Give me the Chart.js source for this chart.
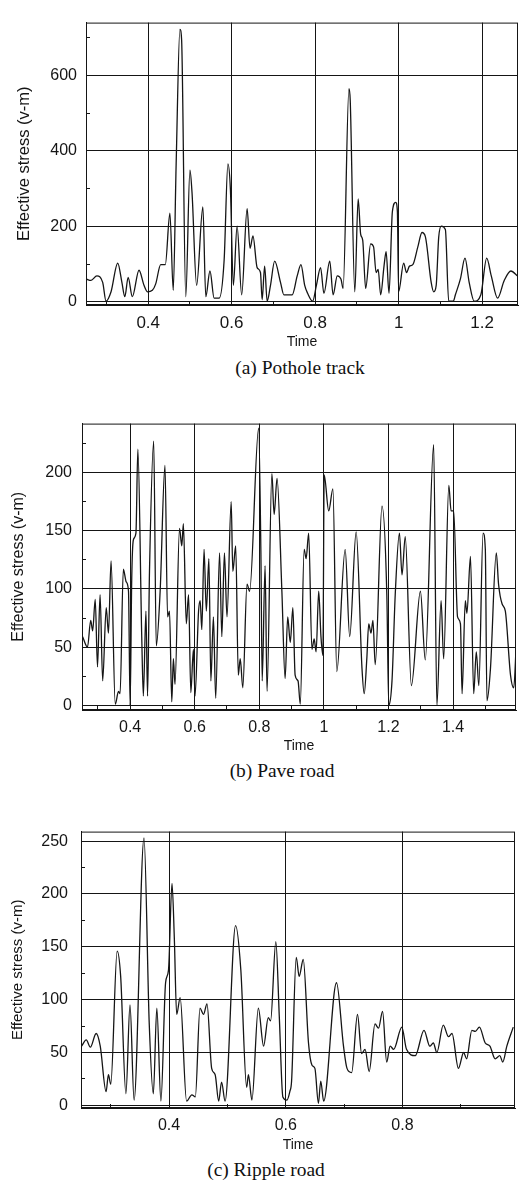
<!DOCTYPE html>
<html>
<head>
<meta charset="utf-8">
<script src="https://cdn.jsdelivr.net/npm/chart.js@4.4.1/dist/chart.umd.min.js"></script>
<style>
  body { margin: 0; background: #fff; width: 519px; height: 1186px; position: relative; overflow: hidden; }
  canvas { position: absolute; left: 0; }
  .cap {
    position: absolute; transform: translateX(-50%) scaleX(1.08);
    font-family: "Liberation Serif", "Times New Roman", serif;
    font-size: 18px; line-height: 20px; color: #111; white-space: nowrap;
  }
</style>
</head>
<body>
<canvas id="chart-a" width="519" height="352" style="top:0px"></canvas>
<div class="cap" style="top:358px;left:300px">(a) Pothole track</div>

<canvas id="chart-b" width="519" height="357" style="top:400px"></canvas>
<div class="cap" style="top:761px;left:282px">(b) Pave road</div>

<canvas id="chart-c" width="519" height="350" style="top:805px"></canvas>
<div class="cap" style="top:1160px;left:266px">(c) Ripple road</div>

<script>
"use strict";

// ── Data: [time, effective stress] ──────────────────────────────────────────
const POTHOLE = [
  [0.251, 61], [0.263, 57], [0.277, 69], [0.291, 52], [0.299, 2], [0.311, 27],
  [0.327, 103], [0.337, 52], [0.344, 14], [0.352, 65], [0.362, 14], [0.378, 84],
  [0.390, 44], [0.398, 27], [0.410, 31], [0.418, 48], [0.430, 99], [0.441, 99],
  [0.452, 235], [0.460, 31], [0.467, 366], [0.476, 722], [0.480, 696], [0.490, 14],
  [0.500, 349], [0.505, 290], [0.516, 44], [0.531, 252], [0.538, 14], [0.548, 82],
  [0.558, 10], [0.570, 10], [0.582, 112], [0.591, 366], [0.597, 298], [0.604, 44],
  [0.613, 201], [0.624, 19], [0.637, 247], [0.644, 142], [0.651, 175], [0.661, 91],
  [0.669, 78], [0.673, 6], [0.679, 95], [0.685, 2], [0.693, 44], [0.703, 108],
  [0.717, 52], [0.725, 19], [0.745, 19], [0.757, 69], [0.766, 99], [0.775, 44],
  [0.782, 23], [0.794, 2], [0.803, 44], [0.813, 91], [0.821, 23], [0.835, 108],
  [0.843, 19], [0.853, 69], [0.862, 60], [0.867, 36], [0.881, 565], [0.884, 535],
  [0.895, 27], [0.903, 273], [0.909, 180], [0.914, 163], [0.921, 36], [0.933, 154],
  [0.940, 146], [0.946, 78], [0.951, 86], [0.957, 19], [0.965, 95], [0.970, 133],
  [0.977, 23], [0.985, 239], [0.993, 264], [0.997, 240], [1.000, 27], [1.012, 103],
  [1.019, 78], [1.026, 95], [1.034, 99], [1.046, 146], [1.056, 184], [1.064, 173],
  [1.078, 52], [1.084, 27], [1.090, 44], [1.096, 171], [1.102, 201], [1.112, 192],
  [1.120, 2], [1.131, 2], [1.136, 19], [1.148, 61], [1.159, 116], [1.169, 52],
  [1.181, 2], [1.197, 19], [1.211, 116], [1.222, 69], [1.237, 10], [1.253, 57],
  [1.269, 82], [1.285, 69],
];

const PAVE = [
  [0.253, 59], [0.268, 50], [0.278, 73], [0.284, 64], [0.292, 91], [0.299, 33],
  [0.307, 95], [0.315, 21], [0.326, 84], [0.333, 62], [0.341, 124], [0.354, 1],
  [0.364, 12], [0.369, 10], [0.379, 117], [0.388, 106], [0.395, 98], [0.400, 0],
  [0.405, 109], [0.410, 142], [0.418, 148], [0.424, 220], [0.436, 59], [0.441, 8],
  [0.449, 81], [0.454, 8], [0.460, 115], [0.473, 227], [0.481, 51], [0.493, 98],
  [0.508, 206], [0.516, 76], [0.522, 81], [0.529, 3], [0.534, 40], [0.539, 18],
  [0.553, 152], [0.560, 137], [0.565, 156], [0.574, 70], [0.581, 95], [0.588, 11],
  [0.596, 48], [0.601, 8], [0.612, 81], [0.617, 90], [0.622, 65], [0.629, 134],
  [0.636, 81], [0.644, 126], [0.650, 21], [0.658, 76], [0.665, 6], [0.677, 131],
  [0.684, 59], [0.692, 131], [0.700, 76], [0.713, 175], [0.718, 115], [0.727, 137],
  [0.735, 26], [0.741, 40], [0.749, 15], [0.762, 104], [0.770, 98], [0.798, 238],
  [0.805, 131], [0.809, 21], [0.818, 120], [0.824, 12], [0.839, 199], [0.846, 164],
  [0.855, 195], [0.870, 98], [0.880, 23], [0.888, 76], [0.896, 54], [0.904, 84],
  [0.911, 26], [0.920, 21], [0.927, 1], [0.939, 134], [0.945, 126], [0.953, 148],
  [0.963, 48], [0.970, 57], [0.976, 46], [0.984, 98], [0.991, 59], [0.997, 43],
  [1.001, 198], [1.015, 167], [1.028, 186], [1.040, 29], [1.066, 134], [1.080, 59],
  [1.100, 149], [1.118, 32], [1.125, 10], [1.133, 40], [1.139, 70], [1.146, 62],
  [1.152, 73], [1.159, 35], [1.180, 171], [1.195, 95], [1.201, 0], [1.211, 21],
  [1.221, 95], [1.234, 148], [1.242, 112], [1.252, 145], [1.271, 17], [1.299, 98],
  [1.314, 39], [1.340, 224], [1.350, 0], [1.363, 90], [1.371, 40], [1.387, 189],
  [1.394, 167], [1.402, 167], [1.414, 76], [1.423, 70], [1.428, 10], [1.438, 90],
  [1.443, 79], [1.454, 128], [1.464, 10], [1.472, 46], [1.480, 17], [1.493, 148],
  [1.500, 134], [1.505, 4], [1.516, 32], [1.534, 131], [1.541, 104], [1.552, 87],
  [1.562, 81], [1.578, 26], [1.588, 15], [1.596, 54],
];

const RIPPLE = [
  [0.250, 56], [0.258, 62], [0.265, 55], [0.275, 68], [0.282, 56], [0.292, 13],
  [0.296, 29], [0.300, 20], [0.311, 146], [0.317, 122], [0.326, 11], [0.333, 95],
  [0.340, 5], [0.357, 253], [0.366, 77], [0.373, 11], [0.379, 92], [0.386, 4],
  [0.394, 116], [0.399, 128], [0.405, 210], [0.409, 158], [0.413, 86], [0.419, 102],
  [0.430, 4], [0.439, 10], [0.445, 8], [0.453, 92], [0.459, 86], [0.465, 96],
  [0.473, 35], [0.479, 29], [0.485, 4], [0.490, 22], [0.496, 4], [0.514, 170],
  [0.523, 128], [0.533, 17], [0.536, 29], [0.542, 5], [0.553, 92], [0.562, 56],
  [0.570, 83], [0.574, 80], [0.583, 155], [0.589, 83], [0.595, 8], [0.602, 5],
  [0.607, 13], [0.610, 23], [0.618, 140], [0.623, 122], [0.630, 138], [0.639, 59],
  [0.645, 38], [0.650, 35], [0.656, 2], [0.660, 23], [0.665, 4], [0.687, 116],
  [0.699, 56], [0.705, 35], [0.713, 31], [0.723, 86], [0.730, 49], [0.736, 53],
  [0.743, 32], [0.753, 77], [0.759, 73], [0.766, 89], [0.773, 41], [0.779, 56],
  [0.785, 53], [0.799, 74], [0.807, 53], [0.822, 47], [0.837, 71], [0.847, 56],
  [0.853, 59], [0.859, 50], [0.870, 76], [0.879, 65], [0.885, 68], [0.896, 35],
  [0.905, 50], [0.910, 44], [0.919, 71], [0.925, 70], [0.932, 74], [0.942, 59],
  [0.950, 56], [0.959, 44], [0.967, 47], [0.972, 41], [0.979, 56], [0.990, 74],
];

// ── Ticks: every position gets a small mark, labelled ones get a grid line ──
const POTHOLE_XTICKS = [0.3, 0.4, 0.5, 0.6, 0.7, 0.8, 0.9, 1.0, 1.1, 1.2];
const POTHOLE_XLABELS = [0.4, 0.6, 0.8, 1.0, 1.2];
const POTHOLE_YTICKS = [0, 100, 200, 300, 400, 500, 600, 700];
const POTHOLE_YLABELS = [0, 200, 400, 600];

const PAVE_XTICKS = [0.3, 0.4, 0.5, 0.6, 0.7, 0.8, 0.9, 1.0, 1.1, 1.2, 1.3, 1.4, 1.5];
const PAVE_XLABELS = [0.4, 0.6, 0.8, 1.0, 1.2, 1.4];
const PAVE_YTICKS = [0, 25, 50, 75, 100, 125, 150, 175, 200, 225];
const PAVE_YLABELS = [0, 50, 100, 150, 200];

const RIPPLE_XTICKS = [0.3, 0.4, 0.5, 0.6, 0.7, 0.8, 0.9];
const RIPPLE_XLABELS = [0.4, 0.6, 0.8];
const RIPPLE_YTICKS = [0, 25, 50, 75, 100, 125, 150, 175, 200, 225, 250];
const RIPPLE_YLABELS = [0, 50, 100, 150, 200, 250];

// ── Style ────────────────────────────────────────────────────────────────────
const INK = "#151515";
const SANS = "'Liberation Sans', Arial, sans-serif";
const NONE = "rgba(0,0,0,0)";

const hasVal = (list, v) => list.some(u => Math.abs(u - v) < 1e-6);
const fmt = v => String(+Number(v).toFixed(2));

// plot frame (top and right edges are not drawn by the axes)
const framePlugin = {
  id: "frame",
  beforeDatasetsDraw(chart) {
    const { ctx, chartArea: a } = chart;
    ctx.save();
    ctx.strokeStyle = INK;
    ctx.lineWidth = 1;
    ctx.strokeRect(a.left + 0.5, a.top + 0.5, a.right - a.left - 1, a.bottom - a.top - 1);
    ctx.restore();
  },
};

function drawPanel(id, p) {
  const ctx = document.getElementById(id).getContext("2d");
  return new Chart(ctx, {
    type: "line",
    data: {
      datasets: [{
        data: p.series.map(([x, y]) => ({ x, y })),
        borderColor: INK,
        borderWidth: 1.3,
        pointRadius: 0,
        cubicInterpolationMode: "monotone",
        fill: false,
      }],
    },
    options: {
      responsive: false,
      animation: false,
      devicePixelRatio: 1,
      layout: { padding: { top: p.padTop, right: p.padRight, left: 0, bottom: 0 } },
      scales: {
        x: {
          type: "linear",
          min: p.xMin, max: p.xMax,
          afterBuildTicks: s => { s.ticks = p.xTicks.map(v => ({ value: v })); },
          afterFit: s => { s.height = 47; },
          ticks: {
            color: INK,
            font: { family: SANS, size: p.xTickSize },
            padding: 12,
            maxRotation: 0,
            autoSkip: false,
            callback: v => hasVal(p.xLabels, v) ? fmt(v) : "",
          },
          grid: {
            color: c => (c.tick && hasVal(p.xLabels, c.tick.value)) ? INK : NONE,
            tickColor: INK,
            tickLength: -4,
            lineWidth: 1,
          },
          border: { color: INK, width: 1 },
          title: {
            display: true, text: "Time", color: INK,
            font: { family: SANS, size: 14 },
            padding: { top: 0, bottom: p.timePad },
          },
        },
        y: {
          min: p.yMin, max: p.yMax,
          afterBuildTicks: s => { s.ticks = p.yTicks.map(v => ({ value: v })); },
          afterFit: s => { s.width = p.yAxisWidth; },
          ticks: {
            color: INK,
            font: { family: SANS, size: 16 },
            padding: p.yTickPad,
            autoSkip: false,
            callback: v => hasVal(p.yLabels, v) ? fmt(v) : "",
          },
          grid: {
            color: c => (c.tick && hasVal(p.yLabels, c.tick.value)) ? INK : NONE,
            tickColor: INK,
            tickLength: -4,
            lineWidth: 1,
          },
          border: { color: INK, width: 1 },
          title: {
            display: true, text: "Effective stress (v-m)", color: INK,
            font: { family: SANS, size: p.yTitleSize },
            padding: { top: p.yTitlePad, bottom: 0 },
          },
        },
      },
      plugins: { legend: { display: false }, tooltip: { enabled: false } },
    },
    plugins: [framePlugin],
  });
}

// ── Panels ───────────────────────────────────────────────────────────────────
drawPanel("chart-a", {
  series: POTHOLE, xTicks: POTHOLE_XTICKS, xLabels: POTHOLE_XLABELS,
  yTicks: POTHOLE_YTICKS, yLabels: POTHOLE_YLABELS,
  xMin: 0.251, xMax: 1.286, yMin: -8, yMax: 740,
  padTop: 10, padRight: 1, yAxisWidth: 86,
  yTitleSize: 16.5, yTitlePad: 15, yTickPad: 13, xTickSize: 17, timePad: 1,
});

drawPanel("chart-b", {
  series: PAVE, xTicks: PAVE_XTICKS, xLabels: PAVE_XLABELS,
  yTicks: PAVE_YTICKS, yLabels: PAVE_YLABELS,
  xMin: 0.251, xMax: 1.595, yMin: -4, yMax: 242,
  padTop: 13, padRight: 3, yAxisWidth: 82,
  yTitleSize: 16, yTitlePad: 9.4, yTickPad: 14, xTickSize: 16, timePad: 2.6,
});

drawPanel("chart-c", {
  series: RIPPLE, xTicks: RIPPLE_XTICKS, xLabels: RIPPLE_XLABELS,
  yTicks: RIPPLE_YTICKS, yLabels: RIPPLE_YLABELS,
  xMin: 0.249, xMax: 0.993, yMin: -2.5, yMax: 259,
  padTop: 12, padRight: 4, yAxisWidth: 81,
  yTitleSize: 15, yTitlePad: 9, yTickPad: 17, xTickSize: 16, timePad: 1.6,
});
</script>
</body>
</html>
